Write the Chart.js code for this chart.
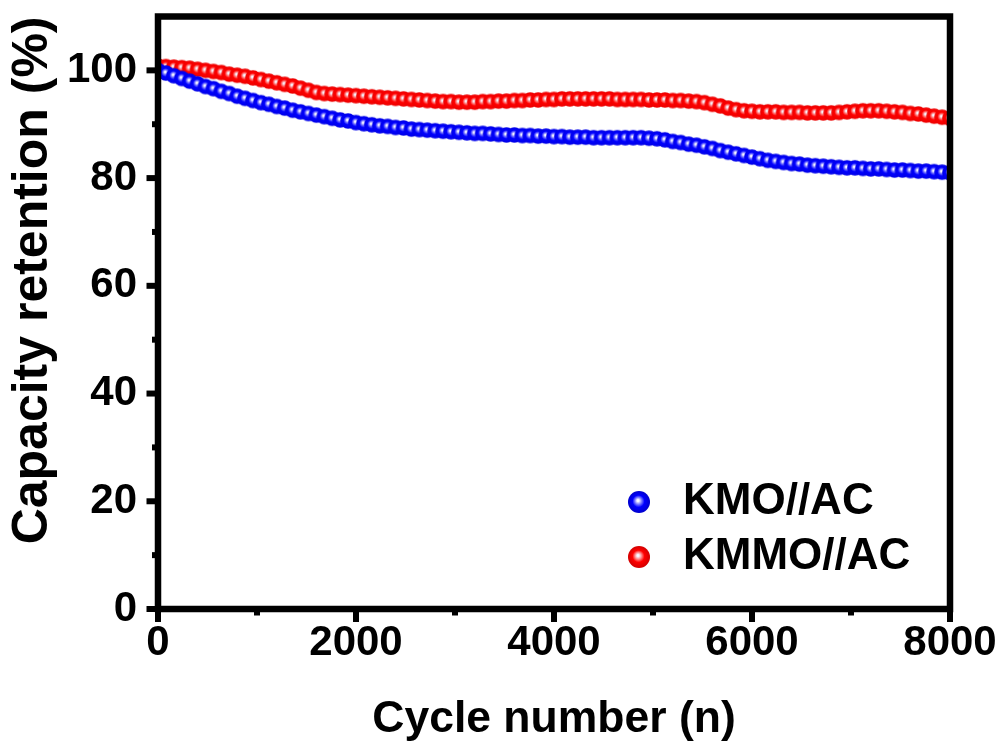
<!DOCTYPE html>
<html><head><meta charset="utf-8">
<script src="https://cdn.jsdelivr.net/npm/chart.js@4.4.0/dist/chart.umd.min.js"></script>
<style>html,body{margin:0;padding:0;background:#fff;}#wrap{width:1003px;height:747px;}</style>
</head><body><div id="wrap"><canvas id="c" width="1003" height="747"></canvas></div>
<script>
// ---- data ----
const cycles = [0,80,160,240,320,400,480,560,640,720,800,880,960,1040,1120,1200,1280,1360,1440,1520,1600,1680,1760,1840,1920,2000,2080,2160,2240,2320,2400,2480,2560,2640,2720,2800,2880,2960,3040,3120,3200,3280,3360,3440,3520,3600,3680,3760,3840,3920,4000,4080,4160,4240,4320,4400,4480,4560,4640,4720,4800,4880,4960,5040,5120,5200,5280,5360,5440,5520,5600,5680,5760,5840,5920,6000,6080,6160,6240,6320,6400,6480,6560,6640,6720,6800,6880,6960,7040,7120,7200,7280,7360,7440,7520,7600,7680,7760,7840,7920,8000];
const kmo = [100.0,99.5,99.0,98.5,98.0,97.5,97.0,96.6,96.1,95.7,95.2,94.8,94.4,94.0,93.7,93.3,93.0,92.6,92.3,92.0,91.7,91.4,91.1,90.8,90.6,90.3,90.1,89.9,89.7,89.6,89.4,89.3,89.1,89.0,88.9,88.8,88.7,88.6,88.5,88.4,88.3,88.3,88.2,88.1,88.0,88.0,87.9,87.9,87.8,87.8,87.7,87.7,87.6,87.6,87.6,87.5,87.5,87.5,87.5,87.5,87.5,87.5,87.4,87.3,87.1,86.8,86.6,86.3,86.1,85.8,85.5,85.1,84.8,84.5,84.2,83.9,83.6,83.3,83.1,82.9,82.7,82.6,82.4,82.3,82.2,82.1,82.0,81.9,81.9,81.8,81.7,81.7,81.6,81.5,81.5,81.4,81.3,81.3,81.2,81.1,81.0];
const kmmo = [100.8,100.7,100.6,100.5,100.4,100.2,100.0,99.8,99.6,99.3,99.1,98.9,98.6,98.3,98.0,97.7,97.4,97.1,96.7,96.3,95.9,95.7,95.6,95.5,95.4,95.3,95.2,95.1,95.0,94.9,94.8,94.7,94.6,94.5,94.4,94.3,94.2,94.2,94.1,94.1,94.1,94.2,94.2,94.3,94.3,94.4,94.4,94.5,94.5,94.6,94.6,94.7,94.7,94.7,94.7,94.7,94.7,94.7,94.6,94.6,94.6,94.6,94.5,94.5,94.5,94.4,94.4,94.3,94.2,94.0,93.7,93.4,93.0,92.7,92.5,92.4,92.3,92.3,92.3,92.2,92.2,92.2,92.1,92.1,92.1,92.1,92.2,92.3,92.4,92.5,92.5,92.5,92.4,92.3,92.2,92.0,91.9,91.7,91.5,91.3,91.1];
const seriesNames = ['KMO//AC', 'KMMO//AC'];
const xTitle = 'Cycle number (n)';
const yTitle = 'Capacity retention (%)';
const xMajor = [0,2000,4000,6000,8000];
const xMinor = [1000,3000,5000,7000];
const yMajor = [0,20,40,60,80,100];
const yMinor = [10,30,50,70,90];

// ---- styling helpers ----
const FONT = "'Liberation Sans', Arial, Helvetica, sans-serif";
function sphere(r, base, light, dark) {
  const s = Math.ceil(2 * r + 2);
  const cv = document.createElement('canvas');
  cv.width = cv.height = s;
  const g = cv.getContext('2d');
  const c = s / 2;
  const grad = g.createRadialGradient(c - r * 0.1, c - r * 0.15, 0, c, c, r);
  grad.addColorStop(0, '#ffffff');
  grad.addColorStop(0.1, '#f4f4ff');
  grad.addColorStop(0.3, light);
  grad.addColorStop(0.55, base);
  grad.addColorStop(1, dark);
  g.fillStyle = grad;
  g.beginPath(); g.arc(c, c, r, 0, Math.PI * 2); g.fill();
  return cv;
}
const blueDot = sphere(7.8, 'rgb(0,0,255)', 'rgb(120,120,255)', 'rgb(0,0,230)');
const redDot = sphere(7.8, 'rgb(255,0,0)', 'rgb(255,130,130)', 'rgb(235,0,0)');
const blueBig = sphere(11, 'rgb(0,0,255)', 'rgb(130,130,255)', 'rgb(0,0,205)');
const redBig = sphere(11, 'rgb(255,0,0)', 'rgb(255,140,140)', 'rgb(210,0,0)');
const bigDots = [blueBig, redBig];

const framePlugin = {
  id: 'frame',
  afterDatasetsDraw(chart) {
    const { ctx, chartArea: { left, right, top, bottom }, scales: { x, y } } = chart;
    ctx.save();
    ctx.strokeStyle = '#000';
    ctx.lineJoin = 'miter';
    ctx.lineWidth = 6.5;
    ctx.strokeRect(left, top, right - left, bottom - top);
    ctx.lineWidth = 6;
    ctx.lineCap = 'butt';
    const seg = (x1, y1, x2, y2) => { ctx.beginPath(); ctx.moveTo(x1, y1); ctx.lineTo(x2, y2); ctx.stroke(); };
    xMajor.forEach(v => { const p = x.getPixelForValue(v); seg(p, bottom, p, bottom + 13); });
    xMinor.forEach(v => { const p = x.getPixelForValue(v); seg(p, bottom, p, bottom + 6.5); });
    yMajor.forEach(v => { const p = y.getPixelForValue(v); seg(left, p, left - 11.5, p); });
    yMinor.forEach(v => { const p = y.getPixelForValue(v); seg(left, p, left - 6, p); });
    ctx.restore();
  }
};

const legendPlugin = {
  id: 'insideLegend',
  afterDraw(chart) {
    const ctx = chart.ctx;
    ctx.save();
    ctx.fillStyle = '#000';
    ctx.font = 'bold 44px ' + FONT;
    ctx.textAlign = 'left';
    ctx.textBaseline = 'alphabetic';
    chart.data.datasets.forEach((ds, i) => {
      const cy = 502 + 55 * i;
      const img = bigDots[i];
      ctx.drawImage(img, 639 - img.width / 2, cy - img.height / 2);
      ctx.fillText(ds.label, 683, 514 + 55 * i);
    });
    ctx.restore();
  }
};

const tickFont = { family: FONT, size: 42, weight: 'bold' };

new Chart(document.getElementById('c'), {
  type: 'scatter',
  data: {
    datasets: [
      { label: seriesNames[0], data: cycles.map((c, i) => ({ x: c, y: kmo[i] })), pointStyle: blueDot, pointRadius: 8, showLine: false },
      { label: seriesNames[1], data: cycles.map((c, i) => ({ x: c, y: kmmo[i] })), pointStyle: redDot, pointRadius: 8, showLine: false }
    ]
  },
  options: {
    responsive: false,
    animation: false,
    devicePixelRatio: 1,
    events: [],
    layout: { padding: { top: 16.5, right: 53, left: 0, bottom: 0 } },
    plugins: { legend: { display: false }, tooltip: { enabled: false } },
    scales: {
      x: {
        type: 'linear', min: 0, max: 8000,
        grid: { display: false, drawTicks: false },
        border: { display: false },
        ticks: { stepSize: 2000, color: '#000', font: tickFont, padding: 9, maxRotation: 0, callback: v => String(v) },
        title: { display: true, text: xTitle, color: '#000', font: { family: FONT, size: 44.5, weight: 'bold' }, padding: { top: 0, bottom: 1 } },
        afterFit: s => { s.height = 138; s.paddingLeft = 0; s.paddingRight = 0; }
      },
      y: {
        type: 'linear', min: 0, max: 110,
        grid: { display: false, drawTicks: false },
        border: { display: false },
        afterBuildTicks: s => { s.ticks = s.ticks.filter(t => yMajor.includes(t.value)); },
        ticks: { stepSize: 20, color: '#000', font: tickFont, padding: 21, callback: v => String(v) },
        title: { display: true, text: yTitle, align: 'end', color: '#000', font: { family: FONT, size: 50, weight: 'bold' }, padding: { top: 3, bottom: 0 } },
        afterFit: s => { s.width = 158; s.paddingTop = 0; s.paddingBottom = 0; }
      }
    }
  },
  plugins: [framePlugin, legendPlugin]
});
</script>
</body></html>
